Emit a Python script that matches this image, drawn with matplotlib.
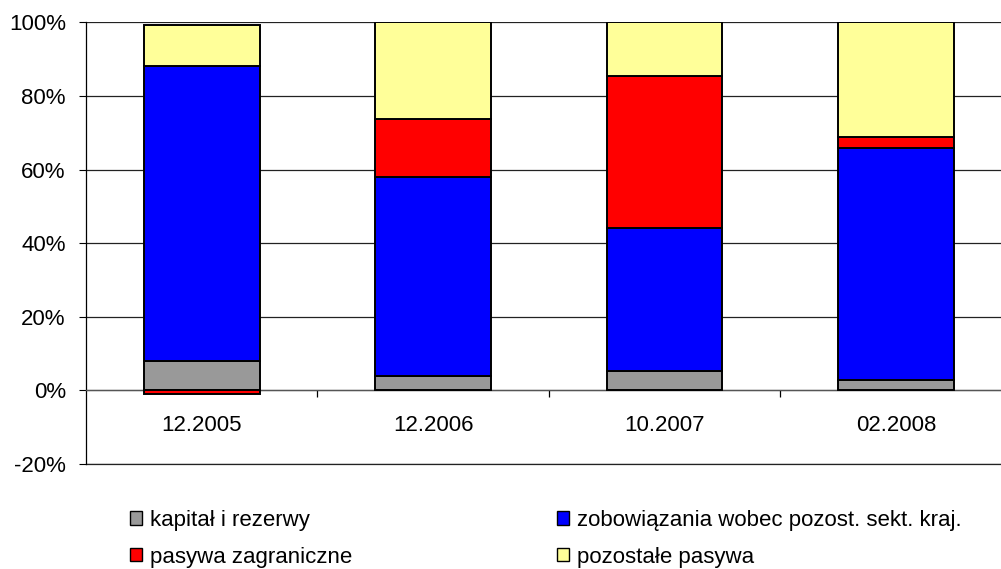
import numpy as np
import matplotlib.pyplot as plt
from matplotlib.patches import Patch
from matplotlib.ticker import FuncFormatter, FixedLocator

plt.rcParams['font.family'] = ['Liberation Sans', 'DejaVu Sans']

categories = ['12.2005', '12.2006', '10.2007', '02.2008']
series_names = ['kapitał i rezerwy', 'zobowiązania wobec pozost. sekt. kraj.',
                'pasywa zagraniczne', 'pozostałe pasywa']
kapital = [8.1, 3.8, 5.2, 2.8]
zobowiazania = [80.1, 54.1, 38.9, 63.1]
zagraniczne = [-0.9, 15.7, 41.3, 2.9]
pozostale = [11.0, 26.4, 14.6, 31.2]
colors = ['#999999', '#0000ff', '#ff0000', '#ffff99']
yticks = [-20, 0, 20, 40, 60, 80, 100]

fs = 16
W, H = 1001, 569
fig = plt.figure(figsize=(W / 100, H / 100), dpi=100)
ax = fig.add_axes([86 / W, (H - 464) / H, (W - 86) / W, (464 - 22.3) / H])

x = np.arange(len(categories))
pos_bottom = np.zeros(len(categories))
neg_bottom = np.zeros(len(categories))
for vals, col in zip([kapital, zobowiazania, zagraniczne, pozostale], colors):
    v = np.array(vals, dtype=float)
    bottom = np.where(v >= 0, pos_bottom, neg_bottom)
    ax.bar(x, v, width=0.5, bottom=bottom, color=col, edgecolor='black',
           linewidth=1.4, zorder=3)
    pos_bottom += np.where(v >= 0, v, 0)
    neg_bottom += np.where(v < 0, v, 0)

ax.set_xlim(-0.5, -0.5 + (W - 86) / 231.4)
ax.set_ylim(-20, 100)

# y axis
ax.set_yticks(yticks)
ax.yaxis.set_major_formatter(FuncFormatter(lambda v, p: f'{v:.0f}%'))
ax.tick_params(axis='y', direction='out', length=5, width=0.8, pad=9.5,
               labelsize=fs, colors='black')
ax.grid(axis='y', color='#222222', linewidth=0.9, zorder=0)
ax.axhline(-20, color='#222222', linewidth=0.9, zorder=0, clip_on=False)
ax.set_axisbelow(True)

# category axis crossing at zero
ax.spines['bottom'].set_position(('data', 0))
ax.spines['top'].set_visible(False)
ax.spines['right'].set_visible(False)
ax.spines['left'].set_linewidth(0.9)
ax.spines['bottom'].set_linewidth(0.9)
ax.spines['bottom'].set_color('#555555')
ax.set_xticks(x)
ax.set_xticklabels(categories)
ax.tick_params(axis='x', which='major', length=0, pad=17.5, labelsize=fs)
ax.xaxis.set_minor_locator(FixedLocator([0.5, 1.5, 2.5]))
ax.tick_params(axis='x', which='minor', direction='out', length=5, width=0.9)

# legend
handles = [Patch(facecolor=c, edgecolor='black', linewidth=1.0) for c in colors]
order = [0, 2, 1, 3]
fig.legend([handles[i] for i in order], [series_names[i] for i in order],
           loc='upper left', bbox_to_anchor=(130 / W, (H - 510) / H),
           ncol=2, frameon=False, fontsize=fs, borderpad=0, borderaxespad=0,
           handlelength=0.55, handleheight=0.55, handletextpad=0.35,
           columnspacing=9.2, labelspacing=0.7)

fig.savefig('out.png', dpi=100)
